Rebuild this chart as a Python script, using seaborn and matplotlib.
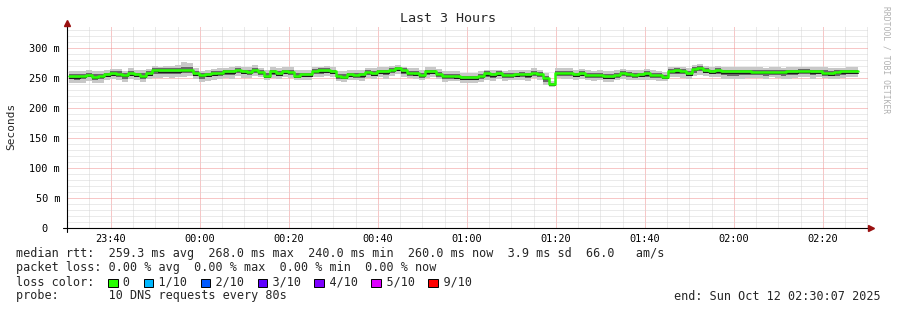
import numpy as np
import matplotlib
matplotlib.use("Agg")
import matplotlib.pyplot as plt
import matplotlib.transforms as mtransforms
from matplotlib.patches import Rectangle
import seaborn as sns

# ---------------- data ----------------
# median RTT per 80 s step, ms
median_ms = [
    253, 253, 254, 255, 252, 254, 256, 258, 257, 255, 258, 256, 254, 258,
    264, 263, 263, 263, 263, 264, 264, 258,
    255, 256, 258, 259, 261, 261, 264, 261, 260, 264, 260, 254, 261, 258, 261, 260, 254, 256, 256, 262, 263, 263, 261,
    254, 252, 256, 255, 256, 260, 258, 261, 261, 264, 266, 263, 259, 258, 255, 261, 261, 257, 254, 254, 253, 251,
    251, 251, 254, 258, 256, 258, 255, 255, 256, 257, 256, 259, 257, 250, 240, 259, 259, 259, 256, 258, 255, 255, 255,
    253, 253, 255, 259, 257, 255, 256, 258, 255, 255, 252, 262, 263, 262, 258, 265, 267, 263, 261, 263, 261, 261,
    261, 261, 261, 260, 260, 260, 260, 260, 260, 261, 261, 262, 262, 261, 261, 259, 258, 260, 261, 261, 261,
]
# smoke extent below / above the median (ms), outer (light) band
smoke_below = [
    12, 11, 12, 10, 11, 12, 9, 10, 11, 12, 9, 10, 11, 9,
    14, 13, 12, 13, 11, 12, 11, 10,
    12, 11, 11, 10, 11, 12, 10, 11, 10, 11, 9, 8, 11, 10, 9, 10, 8, 9, 10, 11, 11, 10, 9,
    9, 8, 10, 9, 11, 10, 9, 10, 12, 11, 10, 11, 9, 10, 9, 11, 10, 9, 10, 9, 8, 9,
    9, 10, 11, 12, 11, 10, 10, 9, 9, 10, 11, 9, 10, 11, 5, 9, 10, 11, 9, 10, 9, 10, 9,
    9, 10, 9, 11, 10, 9, 10, 11, 9, 10, 7, 10, 11, 12, 9, 11, 12, 10, 10, 11, 12, 13,
    13, 12, 11, 10, 10, 11, 9, 10, 11, 12, 11, 10, 11, 12, 10, 9, 10, 11, 11, 10, 10,
]
smoke_above = [
    8, 9, 7, 8, 9, 7, 8, 7, 8, 7, 8, 7, 9, 7,
    6, 6, 7, 7, 8, 12, 11, 9,
    7, 8, 7, 7, 6, 7, 6, 7, 8, 7, 6, 9, 7, 8, 7, 8, 9, 8, 7, 7, 6, 7, 7,
    8, 9, 7, 8, 7, 7, 8, 7, 7, 6, 6, 6, 7, 8, 9, 7, 7, 8, 8, 7, 8, 8,
    8, 7, 7, 6, 7, 6, 7, 8, 7, 7, 8, 7, 7, 9, 5, 7, 8, 7, 8, 7, 8, 7, 8,
    8, 8, 8, 6, 7, 8, 8, 7, 8, 7, 8, 6, 6, 7, 9, 7, 6, 7, 8, 7, 7, 8,
    7, 8, 7, 8, 8, 7, 9, 8, 7, 7, 8, 7, 7, 8, 8, 9, 8, 7, 6, 7, 7,
]
# inner (dark) smoke band around the median (ms)
inner_below = [
    5, 6, 5, 4, 5, 6, 4, 5, 5, 6, 4, 5, 5, 4,
    7, 6, 6, 7, 6, 6, 5, 5,
    6, 5, 5, 5, 6, 6, 5, 5, 5, 5, 5, 4, 6, 5, 5, 5, 4, 5, 5, 6, 6, 5, 5,
    5, 4, 5, 5, 6, 5, 5, 5, 6, 6, 5, 6, 5, 5, 5, 6, 5, 5, 5, 5, 4, 5,
    5, 5, 6, 6, 6, 5, 5, 5, 5, 5, 6, 5, 5, 6, 2, 5, 5, 6, 5, 5, 5, 5, 5,
    5, 5, 5, 6, 5, 5, 5, 6, 5, 5, 4, 5, 6, 6, 5, 6, 6, 5, 5, 6, 6, 7,
    7, 6, 6, 5, 5, 6, 5, 5, 6, 6, 6, 5, 6, 6, 5, 5, 5, 6, 6, 5, 5,
]
inner_above = [
    3, 4, 3, 3, 4, 3, 3, 3, 4, 3, 3, 3, 4, 3,
    3, 3, 3, 3, 4, 5, 5, 4,
    3, 3, 3, 3, 3, 3, 3, 3, 4, 3, 3, 4, 3, 3, 3, 4, 4, 3, 3, 3, 3, 3, 3,
    3, 4, 3, 3, 3, 3, 3, 3, 3, 3, 3, 3, 3, 3, 4, 3, 3, 3, 3, 3, 3, 3,
    3, 3, 3, 3, 3, 3, 3, 3, 3, 3, 3, 3, 3, 4, 2, 3, 3, 3, 3, 3, 3, 3, 3,
    3, 3, 3, 3, 3, 3, 3, 3, 3, 3, 3, 3, 3, 3, 4, 3, 3, 3, 3, 3, 3, 3,
    3, 3, 3, 3, 3, 3, 4, 3, 3, 3, 3, 3, 3, 3, 3, 4, 3, 3, 3, 3, 3,
]

x_tick_labels = ["23:40", "00:00", "00:20", "00:40", "01:00", "01:20", "01:40", "02:00", "02:20"]
y_tick_values = [0, 50, 100, 150, 200, 250, 300]
y_tick_labels = ["0  ", "50 m", "100 m", "150 m", "200 m", "250 m", "300 m"]

loss_labels = ["0", "1/10", "2/10", "3/10", "4/10", "5/10", "9/10"]
loss_colors = ["#26ff00", "#00b8ff", "#0059ff", "#5e00ff", "#7e00ff", "#dd00ff", "#ff0000"]

title = "Last 3 Hours"
legend_rtt = "median rtt:  259.3 ms avg  268.0 ms max  240.0 ms min  260.0 ms now  3.9 ms sd  66.0   am/s"
legend_loss = "packet loss: 0.00 % avg  0.00 % max  0.00 % min  0.00 % now"
legend_probe = "probe:       10 DNS requests every 80s"
end_text = "end: Sun Oct 12 02:30:07 2025"

# ---------------- styling / figure ----------------
sns.set_theme(style="white")
plt.rcParams['font.family'] = ['DejaVu Sans Mono', 'DejaVu Sans']

W, H = 897, 310
fig = plt.figure(figsize=(W / 100, H / 100), dpi=100)
fig.patch.set_facecolor("white")
ax = fig.add_axes([67 / W, 82 / H, 801 / W, 202 / H])
ax.set_facecolor("white")

n = len(median_ms)
step_min = 80 / 60.0
t0 = 0.34  # minutes after 23:30:07 (graph start)
edges = t0 + np.arange(n + 1) * step_min

med = np.array(median_ms + [median_ms[-1]], float)
lo = med - np.array(smoke_below + [smoke_below[-1]], float)
hi = med + np.array(smoke_above + [smoke_above[-1]], float)
ilo = med - np.array(inner_below + [inner_below[-1]], float)
ihi = med + np.array(inner_above + [inner_above[-1]], float)

ax.fill_between(edges, lo, hi, step="post", color="#c8c8c8", lw=0, zorder=2)
ax.fill_between(edges, ilo, ihi, step="post", color="#686868", lw=0, zorder=3)
off = mtransforms.offset_copy(ax.transData, fig=fig, x=0, y=-1.4, units="dots")
ax.plot(edges, med, drawstyle="steps-post", color="#1a1a1a", lw=0.7, transform=off, zorder=4)
sns.lineplot(x=edges, y=med, drawstyle="steps-post", color="#26ff00", lw=1.8, ax=ax, zorder=5)

ax.set_xlim(0, 180)
ax.set_ylim(0, 336.7)

first_major = 9 + 53 / 60.0  # 23:40:00 relative to 23:30:07
major_x = [first_major + 20 * k for k in range(len(x_tick_labels))]
minor_x = [first_major - 5 + 5 * k for k in range(36) if (k % 4) != 1 and first_major - 5 + 5 * k < 180]
ax.set_xticks(major_x)
ax.set_xticklabels(x_tick_labels)
ax.set_xticks(minor_x, minor=True)
ax.set_yticks(y_tick_values)
ax.set_yticklabels(y_tick_labels)
ax.set_yticks([v for v in range(10, 340, 10) if v % 50 != 0], minor=True)

dot = (0, (1, 1))
ax.grid(True, which="minor", color="#d6d6d6", linestyle=dot, lw=0.72)
ax.grid(True, which="major", color="#f09090", linestyle=dot, lw=0.72)
ax.set_axisbelow(True)

ax.tick_params(axis="both", which="both", length=0)
ax.tick_params(axis="y", labelsize=7.4, pad=5, labelcolor="black")
ax.tick_params(axis="x", labelsize=7.4, pad=4, labelcolor="black")

for s in ["top", "right", "left", "bottom"]:
    ax.spines[s].set_visible(False)
# axis lines with arrows
ax.plot([0, 0], [-0.02, 1.015], transform=ax.transAxes, clip_on=False, color="black", lw=0.8, zorder=6)
ax.plot([-4 / 801, 1.003], [0, 0], transform=ax.transAxes, clip_on=False, color="black", lw=0.8, zorder=6)
ax.plot([0], [1.015], transform=ax.transAxes, clip_on=False, marker="^", ms=4.5, color="#9a1010", zorder=7)
ax.plot([1.004], [0], transform=ax.transAxes, clip_on=False, marker=">", ms=4.5, color="#9a1010", zorder=7)

# texts
fig.text(448 / W, 1 - 19 / H, title, ha="center", va="center", fontsize=9.6)
fig.text(11 / W, 1 - 126 / H, "Seconds", rotation=90, ha="center", va="center", fontsize=8)
fig.text(886 / W, 1 - 60 / H, "RRDTOOL / TOBI OETIKER", rotation=270, ha="center", va="center",
         fontsize=5.8, color="#b0b0b0")

cw = 0.602 * 8.5 * 100 / 72  # monospace advance in px
x0 = 16
fig.text(x0 / W, 1 - 254 / H, legend_rtt, ha="left", va="center", fontsize=8.5)
fig.text(x0 / W, 1 - 268 / H, legend_loss, ha="left", va="center", fontsize=8.5)
fig.text(x0 / W, 1 - 296 / H, legend_probe, ha="left", va="center", fontsize=8.5)
fig.text(881 / W, 1 - 296 / H, end_text, ha="right", va="center", fontsize=8.5)

# loss colour line
chars = list("loss color:".ljust(70))
sq_pos = []
c = 13
for lbl in loss_labels:
    sq_pos.append(c)
    for j, ch in enumerate(lbl):
        chars[c + 2 + j] = ch
    c = c + 2 + len(lbl) + 2
    if c < 18:
        c = 18
fig.text(x0 / W, 1 - 282 / H, "".join(chars).rstrip(), ha="left", va="center", fontsize=8.5)
for cpos, col in zip(sq_pos, loss_colors):
    px = x0 + cpos * cw
    fig.add_artist(Rectangle((px / W, (H - 287) / H), 9.5 / W, 8.5 / H, transform=fig.transFigure,
                             facecolor=col, edgecolor="black", lw=0.7))

fig.savefig("out.png", dpi=100, facecolor="white")
